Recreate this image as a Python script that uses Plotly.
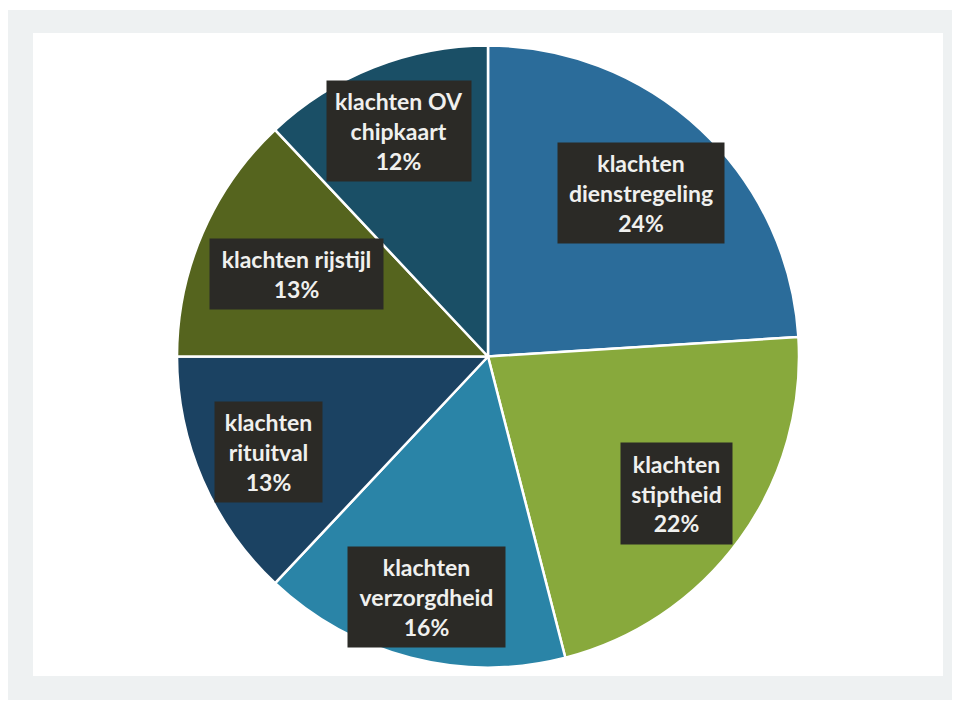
import math
import plotly.graph_objects as go

# Complaint categories and their share (%)
categories = [
    "klachten<br>dienstregeling",
    "klachten<br>stiptheid",
    "klachten<br>verzorgdheid",
    "klachten<br>rituitval",
    "klachten rijstijl",
    "klachten OV<br>chipkaart",
]
shares = [24, 22, 16, 13, 13, 12]
slice_colors = ["#2b6c9a", "#88a93c", "#2a84a7", "#1b4262", "#55641e", "#1a4f66"]

# Label layout: distance from the centre (fraction of radius) and box size (px)
label_radius = [0.72, 0.75, 0.80, 0.77, 0.67, 0.78]
box_w = [166, 111, 157, 107, 173, 144]
box_h = [100, 101, 100, 100, 70, 100]

W, H = 955, 703
cx, cy, R = 488, 356.5, 311  # pie centre and radius in px

fig = go.Figure(
    go.Pie(
        labels=[c.replace("<br>", " ") for c in categories],
        values=shares,
        sort=False,
        direction="clockwise",
        rotation=0,
        marker=dict(colors=slice_colors, line=dict(color="white", width=2.5)),
        textinfo="none",
        hoverinfo="label+percent",
        showlegend=False,
        domain=dict(x=[(cx - R) / W, (cx + R) / W], y=[1 - (cy + R) / H, 1 - (cy - R) / H]),
    )
)

# Dark label boxes placed on each slice's middle angle
total = sum(shares)
cum = 0
for cat, val, f, bw, bh in zip(categories, shares, label_radius, box_w, box_h):
    mid = (cum + val / 2) / total * 2 * math.pi
    cum += val
    px = cx + f * R * math.sin(mid)
    py = cy - f * R * math.cos(mid)
    fig.add_annotation(
        x=px / W, y=1 - py / H, xref="paper", yref="paper",
        text=f"{cat}<br>{val}%",
        showarrow=False,
        font=dict(family="Lato, Open Sans, sans-serif", size=23, color="#f0f0ee", weight="bold"),
        bgcolor="#2b2a26",
        borderpad=0,
        width=bw, height=bh,
        align="center", valign="middle",
        xanchor="center", yanchor="middle",
    )

# Light grey frame around the chart area
fig.add_shape(type="rect", xref="paper", yref="paper",
              x0=8 / W, x1=952 / W, y0=1 - 700 / H, y1=1 - 10 / H,
              fillcolor="#eef1f2", line=dict(width=0), layer="below")
fig.add_shape(type="rect", xref="paper", yref="paper",
              x0=33 / W, x1=943 / W, y0=1 - 676 / H, y1=1 - 33 / H,
              fillcolor="white", line=dict(width=0), layer="below")

fig.update_layout(
    width=W, height=H,
    margin=dict(l=0, r=0, t=0, b=0),
    paper_bgcolor="white",
    plot_bgcolor="white",
)

fig.write_html("out.html")
